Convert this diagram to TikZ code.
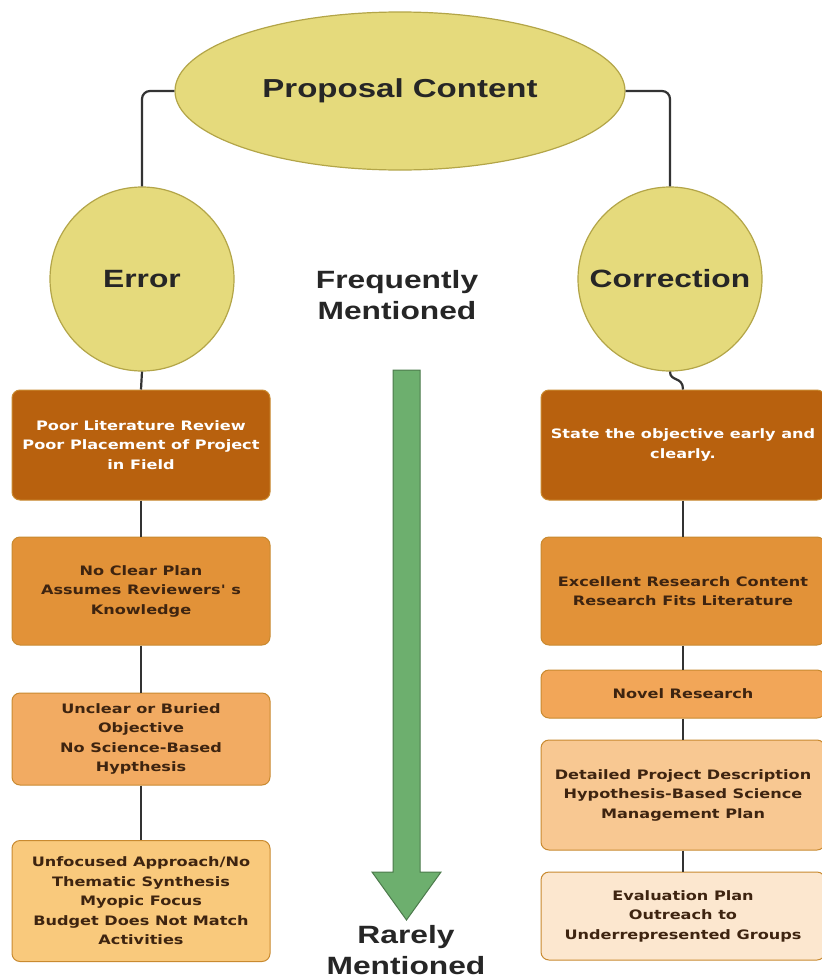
\documentclass[tikz,border=0pt]{standalone}
\usepackage{fontspec}
\setmainfont[FakeStretch=1.27]{Liberation Sans}
\newfontfamily\boxfont[FakeStretch=1.24]{DejaVu Sans}
\usetikzlibrary{shapes.geometric}
\definecolor{khaki}{HTML}{E5DA7C}
\definecolor{khakiedge}{HTML}{B3A548}
\definecolor{ochreA}{HTML}{B8610E}
\definecolor{ochreB}{HTML}{E29238}
\definecolor{ochreC}{HTML}{F2AB62}
\definecolor{ochreD}{HTML}{F9C97C}
\definecolor{peachD}{HTML}{F8C892}
\definecolor{peachE}{HTML}{FCE7CF}
\definecolor{novel}{HTML}{F2A658}
\definecolor{boxedge}{HTML}{C98A30}
\definecolor{boxtext}{HTML}{3E2410}
\definecolor{linegray}{HTML}{333333}
\definecolor{arrowgreen}{HTML}{6DAF6E}
\definecolor{arrowedge}{HTML}{4C7A4C}
\tikzset{
  x=1pt, y=-1pt,
  bubble/.style={circle, draw=khakiedge, line width=1.2pt, fill=khaki, minimum size=184pt, inner sep=0pt,
    font=\bfseries\fontsize{25}{28}\selectfont, text=black!85},
  itembox/.style={draw=boxedge, line width=1pt, rounded corners=8pt, inner sep=0pt, align=center,
    font=\boxfont\bfseries\fontsize{13}{19.5}\selectfont, text=boxtext},
  link/.style={draw=linegray, line width=2.2pt},
  scalelabel/.style={align=center, font=\bfseries\fontsize{25}{31}\selectfont, text=black!85}
}
\begin{document}
\begin{tikzpicture}
\useasboundingbox (0,0) rectangle (822,980);
\fill[white] (0,0) rectangle (822,980);

% top ellipse and the two branch circles
\node[ellipse, draw=khakiedge, line width=1.2pt, fill=khaki, minimum width=450pt, minimum height=158pt,
  font=\bfseries\fontsize{26}{30}\selectfont, text=black!85] (top) at (400,91) {Proposal Content};
\node[bubble] (err) at (142,279) {Error};
\node[bubble] (cor) at (670,279) {Correction};

% left column boxes
\node[itembox, fill=ochreA, text=white, minimum width=258pt, minimum height=110pt] (e1) at (141,445)
  {Poor Literature Review\\Poor Placement of Project\\in Field};
\node[itembox, fill=ochreB, minimum width=258pt, minimum height=108pt] (e2) at (141,591)
  {No Clear Plan\\Assumes Reviewers' s\\Knowledge};
\node[itembox, fill=ochreC, minimum width=258pt, minimum height=92pt] (e3) at (141,739)
  {Unclear or Buried\\Objective\\No Science-Based\\Hypthesis};
\node[itembox, fill=ochreD, minimum width=258pt, minimum height=121pt] (e4) at (141,901)
  {Unfocused Approach/No\\Thematic Synthesis\\Myopic Focus\\Budget Does Not Match\\Activities};

% right column boxes
\node[itembox, fill=ochreA, text=white, minimum width=284pt, minimum height=110pt] (c1) at (683,445)
  {State the objective early and\\clearly.};
\node[itembox, fill=ochreB, minimum width=284pt, minimum height=108pt] (c2) at (683,591)
  {Excellent Research Content\\Research Fits Literature};
\node[itembox, fill=novel, minimum width=284pt, minimum height=48pt] (c3) at (683,694)
  {Novel Research};
\node[itembox, fill=peachD, minimum width=284pt, minimum height=110pt] (c4) at (683,795)
  {Detailed Project Description\\Hypothesis-Based Science\\Management Plan};
\node[itembox, fill=peachE, minimum width=284pt, minimum height=88pt] (c5) at (683,916)
  {Evaluation Plan\\Outreach to\\Underrepresented Groups};

% connectors
\draw[link, rounded corners=8pt] (top.west) -| (err.north);
\draw[link, rounded corners=8pt] (top.east) -| (cor.north);
\draw[link] (err.south) -- (e1.north);
\draw[link] (e1.south) -- (e2.north);
\draw[link] (e2.south) -- (e3.north);
\draw[link] (e3.south) -- (e4.north);
\draw[link] (cor.south) .. controls (670,382) and (683,376) .. (c1.north);
\draw[link] (c1.south) -- (c2.north);
\draw[link] (c2.south) -- (c3.north);
\draw[link] (c3.south) -- (c4.north);
\draw[link] (c4.south) -- (c5.north);

% frequency scale
\node[scalelabel] (freq) at (397,295) {Frequently\\Mentioned};
\node[scalelabel] (rare) at (406,950) {Rarely\\Mentioned};
\draw[draw=arrowedge, fill=arrowgreen, line width=1pt]
  (393,370) -- (420,370) -- (420,872) -- (441,872) -- (406.5,920) -- (372,872) -- (393,872) -- cycle;
\end{tikzpicture}
\end{document}
